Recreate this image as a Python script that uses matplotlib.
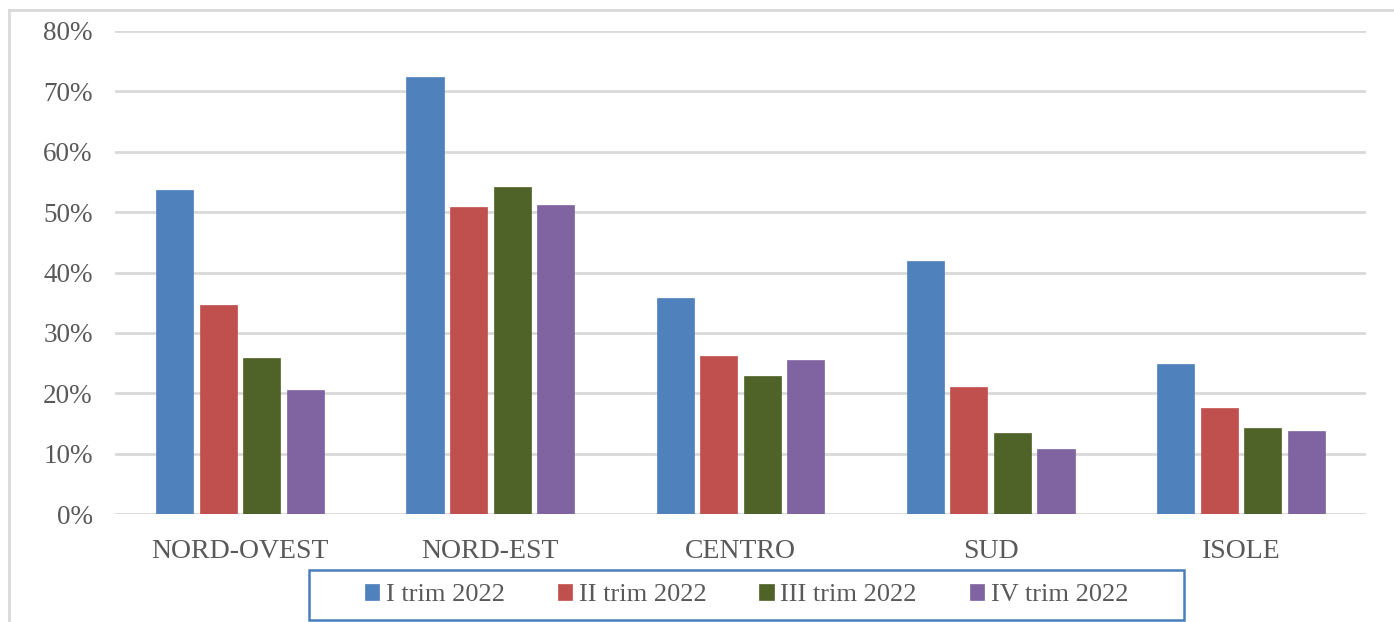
import matplotlib
matplotlib.use("Agg")
import matplotlib.pyplot as plt
import numpy as np
from matplotlib.patches import Rectangle
from matplotlib.lines import Line2D
from matplotlib.ticker import FuncFormatter

categories = ["NORD-OVEST", "NORD-EST", "CENTRO", "SUD", "ISOLE"]
series_names = ["I trim 2022", "II trim 2022", "III trim 2022", "IV trim 2022"]
trim1 = [53.6, 72.3, 35.8, 41.9, 24.8]
trim2 = [34.6, 50.8, 26.2, 21.0, 17.5]
trim3 = [25.8, 54.1, 22.8, 13.4, 14.2]
trim4 = [20.5, 51.2, 25.5, 10.8, 13.7]
yticks = [0, 10, 20, 30, 40, 50, 60, 70, 80]

colors = ["#4f81bd", "#c0504d", "#4f6228", "#8064a2"]
textc = "#595959"
grid_c = "#d9d9d9"

plt.rcParams['font.family'] = ['Liberation Serif', 'DejaVu Serif']

fig = plt.figure(figsize=(13.94, 6.22), dpi=100)
W, H = 1394, 622
ax = fig.add_axes([115 / W, 1 - 514 / H, (1366 - 115) / W, (514 - 31) / H])

x = np.arange(len(categories))
slot = 0.174
bw = 0.148
data = [trim1, trim2, trim3, trim4]
for i, (vals, c, name) in enumerate(zip(data, colors, series_names)):
    ax.bar(x + (i - 1.5) * slot, vals, width=bw, color=c, label=name,
           zorder=3, edgecolor=c, linewidth=0.5)

ax.set_xlim(-0.5, len(categories) - 0.5)
ax.set_ylim(0, 80)
ax.set_yticks(yticks)
ax.yaxis.set_major_formatter(FuncFormatter(lambda v, p: f"{int(v)}%"))
ax.set_xticks(x)
ax.set_xticklabels(categories)
ax.grid(axis='y', color=grid_c, linewidth=2, zorder=0)
for s in ax.spines.values():
    s.set_visible(False)
ax.tick_params(axis='both', length=0, colors=textc)
ax.tick_params(axis='y', pad=16, labelsize=19.5)
ax.tick_params(axis='x', pad=18, labelsize=20)

# outer chart frame
fig.add_artist(Line2D([9 / W, 9 / W], [0, 1 - 10 / H], color=grid_c, lw=2,
                      transform=fig.transFigure))
fig.add_artist(Line2D([9 / W, 1], [1 - 10 / H, 1 - 10 / H], color=grid_c, lw=2,
                      transform=fig.transFigure))

# legend box
fig.add_artist(Rectangle((309 / W, 1 - 620 / H), (1184 - 309) / W, 50 / H,
                         transform=fig.transFigure, fill=False,
                         edgecolor="#4a7ebb", linewidth=1.8))
handles, labels = ax.get_legend_handles_labels()
leg = fig.legend(handles, labels, loc='center', ncol=4,
                 bbox_to_anchor=((309 + 1184) / 2 / W, 1 - 595 / H),
                 frameon=False, fontsize=19, handlelength=0.55, handleheight=0.55,
                 handletextpad=0.25, columnspacing=2.0, labelcolor=textc)

fig.savefig("out.png", dpi=100)
